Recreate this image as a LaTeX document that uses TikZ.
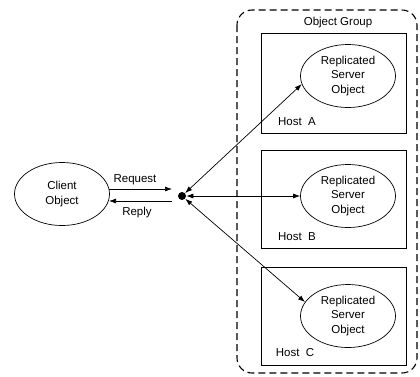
\documentclass[tikz,border=0pt]{standalone}
\usepackage{fontspec}
\setmainfont{Liberation Sans}
\usetikzlibrary{shapes.geometric,arrows.meta}

\tikzset{
  obj/.style={draw,ellipse,inner sep=0pt,align=center,font=\fontsize{11.5}{14.5}\selectfont},
  hostbox/.style={draw,rectangle,minimum width=145pt,inner sep=0pt},
  lbl/.style={font=\fontsize{11.5}{13}\selectfont,inner sep=0pt},
  msg/.style={-{Latex[length=7pt,width=5pt]}},
  link/.style={{Latex[length=7pt,width=5pt]}-{Latex[length=7pt,width=5pt]}}
}

\begin{document}
\begin{tikzpicture}[x=1pt,y=-1pt,line width=0.7pt]
\useasboundingbox (0,0) rectangle (420,376);
% group frame
\draw[line width=1.1pt,dash pattern=on 7pt off 4pt,rounded corners=15pt] (237,10) rectangle (417,373);
\node[lbl] (grp) at (338,23) {Object Group};
% hosts
\node[hostbox,minimum height=100pt] (hostA) at (333.5,83) {};
\node[hostbox,minimum height=98pt] (hostB) at (333.5,199) {};
\node[hostbox,minimum height=98pt] (hostC) at (333.5,316) {};
\node[lbl] (hA) at (297,122) {Host\ \ A};
\node[lbl] (hB) at (297,237) {Host\ \ B};
\node[lbl] (hC) at (295,353) {Host\ \ C};
% servers
\node[obj,minimum width=95pt,minimum height=63pt] (srvA) at (348,76) {Replicated\\Server\\Object};
\node[obj,minimum width=95pt,minimum height=63pt] (srvB) at (348,196) {Replicated\\Server\\Object};
\node[obj,minimum width=95pt,minimum height=63pt] (srvC) at (348,316) {Replicated\\Server\\Object};
% client side
\node[obj,minimum width=95pt,minimum height=63pt] (client) at (62,194) {Client\\Object};
\node[circle,fill,inner sep=0pt,minimum size=8pt] (hub) at (182,196) {};
\coordinate (reqA) at (109,189);
\coordinate (reqB) at (172,189);
\coordinate (repA) at (172,201);
\coordinate (repB) at (109,201);
\draw[msg] (reqA) -- (reqB);
\draw[msg] (repA) -- (repB);
\node[lbl] (req) at (135,180) {Request};
\node[lbl] (rep) at (137,213) {Reply};
% links to the replicas
\draw[link] (hub) -- (srvA.190);
\draw[link] (hub) -- (srvB);
\draw[link] (hub) -- (srvC.162);
\end{tikzpicture}
\end{document}
